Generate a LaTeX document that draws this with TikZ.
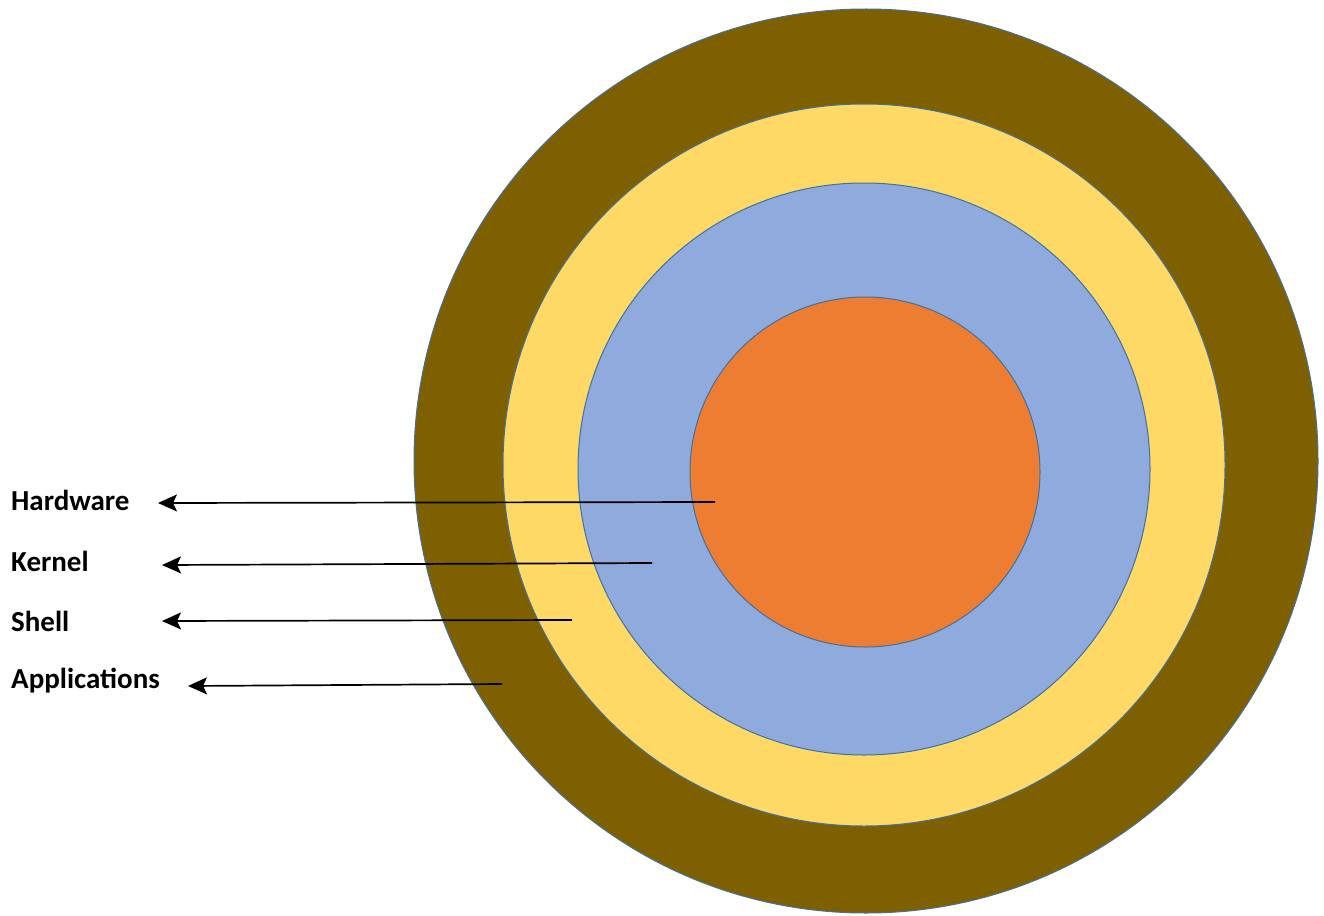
\documentclass[tikz,border=0pt]{standalone}
\usepackage{fontspec}
\setmainfont{Carlito}
\usetikzlibrary{arrows.meta}
\definecolor{appbrown}{HTML}{7F6000}
\definecolor{shellyellow}{HTML}{FFD966}
\definecolor{kernelblue}{HTML}{8FAADC}
\definecolor{hworange}{HTML}{ED7D31}
\definecolor{ringline}{HTML}{41719C}
\tikzset{
  ring/.style={draw=ringline,line width=1pt},
  layerlabel/.style={anchor=west,inner sep=0pt,font=\fontsize{29}{34}\selectfont\bfseries},
  layerarrow/.style={-{Stealth[length=19pt,width=17pt,inset=4pt]},line width=1.7pt,black}
}
\begin{document}
\begin{tikzpicture}[x=1pt,y=-1pt]
\useasboundingbox (0,0) rectangle (1324,915);
% layers, outside in
\fill[appbrown,ring] (866,461) circle (452);
\fill[shellyellow,ring] (864,465) circle (361);
\fill[kernelblue,ring] (864,469) circle (286);
\fill[hworange,ring] (865,472) circle (175);
% labels
\node[layerlabel] (hw) at (11,500) {Hardware};
\node[layerlabel] (kern) at (11,561) {Kernel};
\node[layerlabel] (sh) at (11,621) {Shell};
\node[layerlabel] (app) at (11,681) {Applications};
% arrow ends
\coordinate (hwpt) at (715,502);
\coordinate (kernpt) at (652,563);
\coordinate (shpt) at (572,620);
\coordinate (apppt) at (502,684);
\coordinate (hwtip) at (158,503);
\coordinate (kerntip) at (162,565);
\coordinate (shtip) at (162,621);
\coordinate (apptip) at (188,686);
\draw[layerarrow] (hwpt) -- (hwtip);
\draw[layerarrow] (kernpt) -- (kerntip);
\draw[layerarrow] (shpt) -- (shtip);
\draw[layerarrow] (apppt) -- (apptip);
\end{tikzpicture}
\end{document}
